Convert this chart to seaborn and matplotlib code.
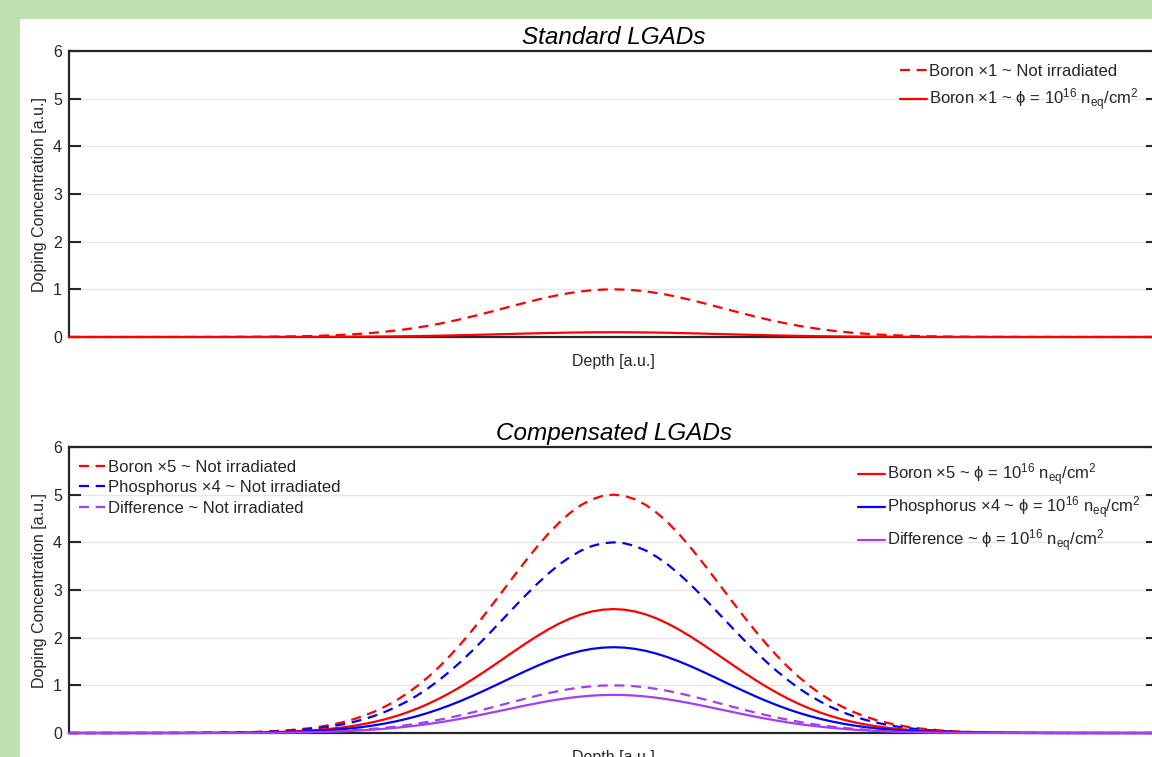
import numpy as np
import pandas as pd
import matplotlib
matplotlib.use("Agg")
import matplotlib.pyplot as plt
import seaborn as sns
from matplotlib.patches import Rectangle

# ---- data ----
# sample grid along depth (0 .. 10, step 0.1)
depth = [round(i * 0.1, 1) for i in range(101)]
# normalised implant profile (peak = 1 at depth 5)
profile = [
    0.0000, 0.0000, 0.0000, 0.0000, 0.0000, 0.0000, 0.0001, 0.0001, 0.0001, 0.0002,
    0.0003, 0.0005, 0.0007, 0.0011, 0.0015, 0.0022, 0.0031, 0.0043, 0.0060, 0.0082,
    0.0111, 0.0149, 0.0198, 0.0261, 0.0340, 0.0439, 0.0561, 0.0710, 0.0889, 0.1103,
    0.1353, 0.1645, 0.1979, 0.2357, 0.2780, 0.3247, 0.3753, 0.4296, 0.4868, 0.5461,
    0.6065, 0.6670, 0.7261, 0.7827, 0.8353, 0.8825, 0.9231, 0.9560, 0.9802, 0.9950,
    1.0000,
    0.9950, 0.9802, 0.9560, 0.9231, 0.8825, 0.8353, 0.7827, 0.7261, 0.6670, 0.6065,
    0.5461, 0.4868, 0.4296, 0.3753, 0.3247, 0.2780, 0.2357, 0.1979, 0.1645, 0.1353,
    0.1103, 0.0889, 0.0710, 0.0561, 0.0439, 0.0340, 0.0261, 0.0198, 0.0149, 0.0111,
    0.0082, 0.0060, 0.0043, 0.0031, 0.0022, 0.0015, 0.0011, 0.0007, 0.0005, 0.0003,
    0.0002, 0.0001, 0.0001, 0.0001, 0.0000, 0.0000, 0.0000, 0.0000, 0.0000, 0.0000,
]

# peak heights
std_names = ["Boron ×1 ~ Not irradiated", "Boron ×1 ~ ϕ = 10$^{16}$ n$_{\\mathrm{eq}}$/cm$^{2}$"]
std_peaks = [1.0, 0.1]
comp_names_ni = ["Boron ×5 ~ Not irradiated", "Phosphorus ×4 ~ Not irradiated", "Difference ~ Not irradiated"]
comp_peaks_ni = [5.0, 4.0, 1.0]
comp_names_irr = ["Boron ×5 ~ ϕ = 10$^{16}$ n$_{\\mathrm{eq}}$/cm$^{2}$",
                  "Phosphorus ×4 ~ ϕ = 10$^{16}$ n$_{\\mathrm{eq}}$/cm$^{2}$",
                  "Difference ~ ϕ = 10$^{16}$ n$_{\\mathrm{eq}}$/cm$^{2}$"]
comp_peaks_irr = [2.6, 1.8, 0.8]
yticks = [0, 1, 2, 3, 4, 5, 6]
titles = ["Standard LGADs", "Compensated LGADs"]
xlab = "Depth [a.u.]"
ylab = "Doping Concentration [a.u.]"

RED, BLUE, PURPLE = "#ff0000", "#0000ff", "#a23ff2"

sns.set_theme(style="white")
plt.rcParams["font.family"] = ["Liberation Sans", "DejaVu Sans"]
plt.rcParams["mathtext.fontset"] = "custom"
plt.rcParams["mathtext.rm"] = "Liberation Sans"
plt.rcParams["mathtext.it"] = "Liberation Sans:italic"
plt.rcParams["mathtext.bf"] = "Liberation Sans:bold"

fig = plt.figure(figsize=(11.52, 7.57), dpi=100, facecolor="#bfe1b0")
fig.patches.append(Rectangle((20 / 1152, 0), 1.0, 1 - 19 / 757, transform=fig.transFigure,
                             facecolor="white", edgecolor="none", zorder=-10))

W = 1152.0
H = 757.0
ax_w = (1158 - 69) / W
ax1 = fig.add_axes([69 / W, 1 - 337 / H, ax_w, 286 / H])
ax2 = fig.add_axes([69 / W, 1 - 733 / H, ax_w, 286 / H])
ax1.set_zorder(1)
ax2.set_zorder(1)

DASH = (0, (4.5, 3.0))
FS_LEG = 12

def series(peak):
    return pd.DataFrame({"x": depth, "y": [peak * p for p in profile]})

def style_axes(ax, title):
    ax.set_xlim(0, 10)
    ax.set_ylim(0, 6)
    ax.set_yticks(yticks)
    ax.set_xticks([])
    ax.grid(axis="y", color="#e6e6e6", lw=1.0)
    ax.set_axisbelow(True)
    for s in ["top", "left", "bottom", "right"]:
        ax.spines[s].set_visible(True)
        ax.spines[s].set_color("#262626")
        ax.spines[s].set_linewidth(1.6)
    ax.tick_params(axis="y", direction="in", length=8.5, width=1.5, color="#262626",
                   left=True, right=True, labelsize=11.5, pad=5, labelcolor="#262626")
    ax.set_title(title, fontsize=17.5, style="italic", pad=5, color="black")
    ax.set_xlabel(xlab, fontsize=11.5, labelpad=12, color="#262626")
    ax.set_ylabel(ylab, fontsize=11.5, labelpad=4, color="#262626")

# ---- top panel ----
h = []
for name, pk, ls in zip(std_names, std_peaks, [DASH, "-"]):
    sns.lineplot(data=series(pk), x="x", y="y", ax=ax1, color=RED, lw=1.6,
                 linestyle=ls, zorder=3, clip_on=False)
    h.append(ax1.lines[-1])
style_axes(ax1, titles[0])
ax1.legend(h, std_names, loc="upper left", bbox_to_anchor=(0.763, 0.955), frameon=False,
           fontsize=FS_LEG, handlelength=1.6, handletextpad=0.15, borderpad=0,
           borderaxespad=0, labelspacing=0.45)

# ---- bottom panel ----
cols = [RED, BLUE, PURPLE]
h_ni, h_irr = [], []
for name, pk, c in zip(comp_names_ni, comp_peaks_ni, cols):
    sns.lineplot(data=series(pk), x="x", y="y", ax=ax2, color=c, lw=1.6,
                 linestyle=DASH, zorder=3, clip_on=False)
    h_ni.append(ax2.lines[-1])
for name, pk, c in zip(comp_names_irr, comp_peaks_irr, cols):
    sns.lineplot(data=series(pk), x="x", y="y", ax=ax2, color=c, lw=1.6,
                 linestyle="-", zorder=3, clip_on=False)
    h_irr.append(ax2.lines[-1])
style_axes(ax2, titles[1])
leg1 = ax2.legend(h_ni, comp_names_ni, loc="upper left", bbox_to_anchor=(0.009, 0.955),
                  frameon=False, fontsize=FS_LEG, handlelength=1.6, handletextpad=0.15,
                  borderpad=0, borderaxespad=0, labelspacing=0.32)
ax2.add_artist(leg1)
ax2.legend(h_irr, comp_names_irr, loc="upper left", bbox_to_anchor=(0.7245, 0.948),
           frameon=False, fontsize=FS_LEG, handlelength=1.6, handletextpad=0.15,
           borderpad=0, borderaxespad=0, labelspacing=0.38)

fig.savefig("out.png", dpi=100, facecolor=fig.get_facecolor())
